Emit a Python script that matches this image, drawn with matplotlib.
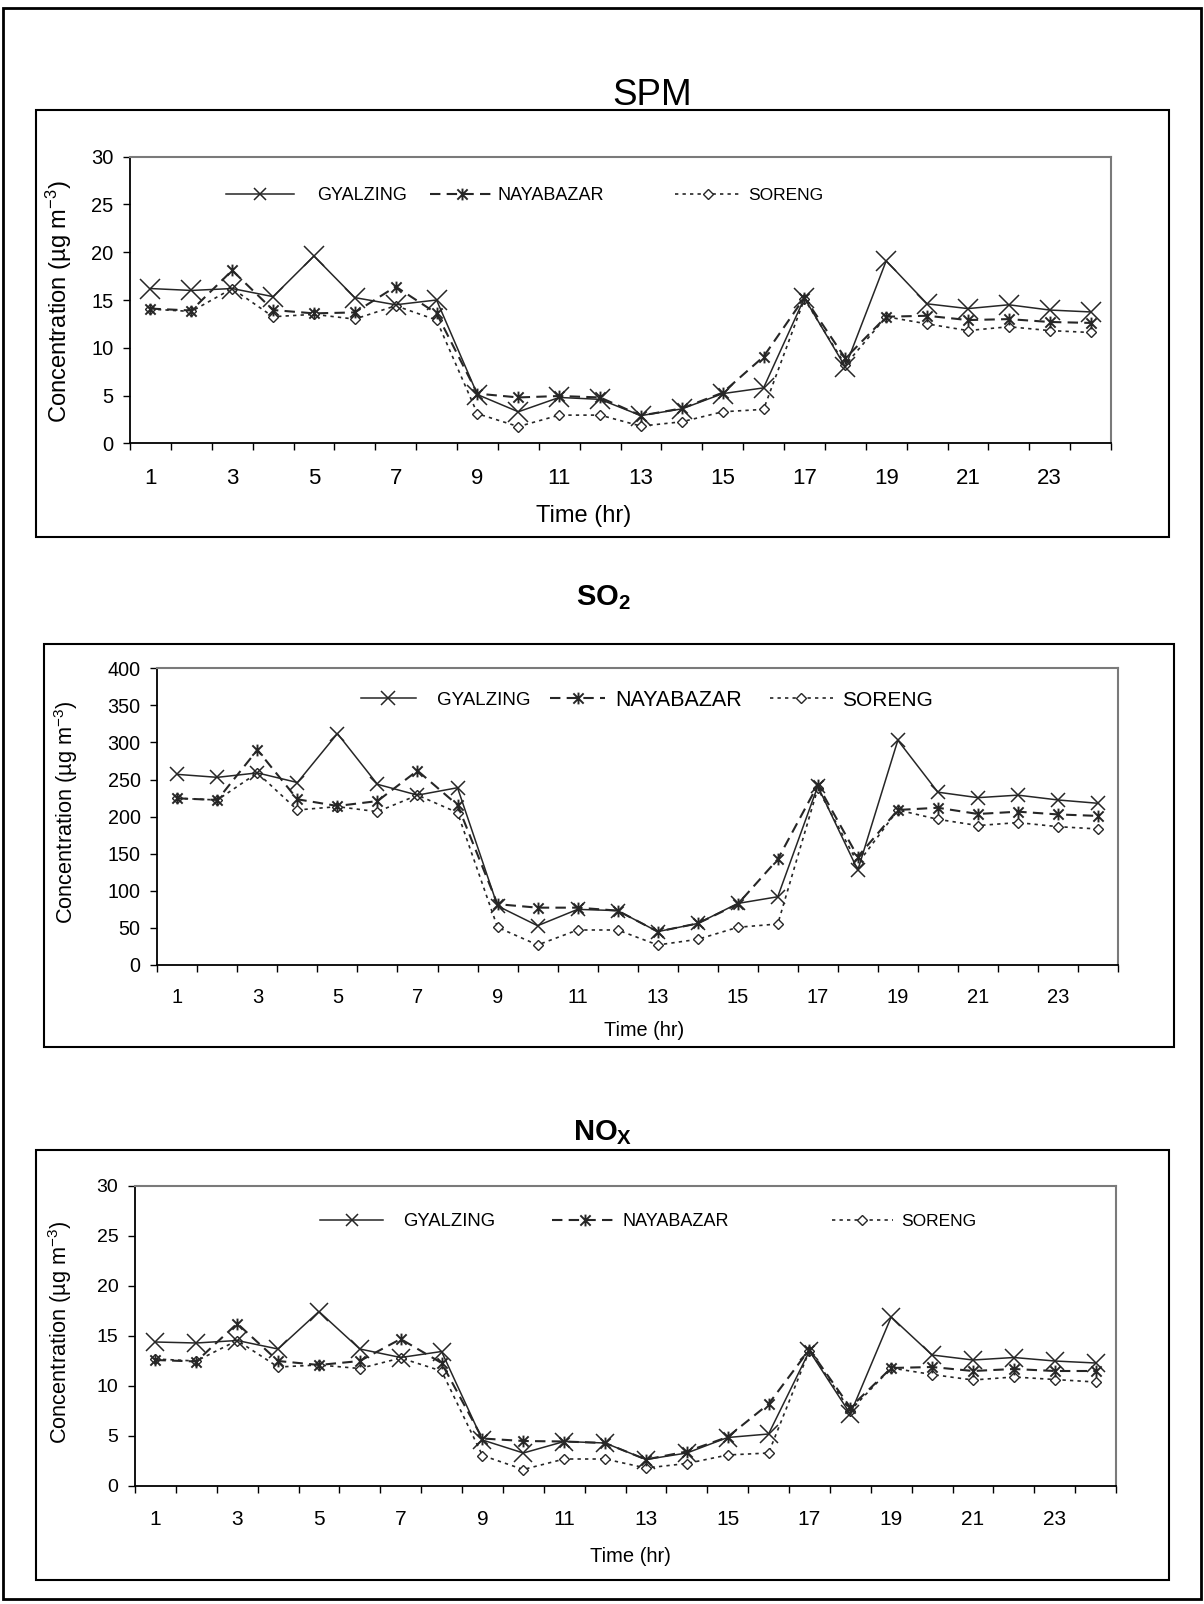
import numpy as np
import matplotlib
matplotlib.use('Agg')
import matplotlib.pyplot as plt
from matplotlib.path import Path
from matplotlib.legend import Legend
from matplotlib.patches import Rectangle

plt.rcParams['font.family'] = ['Liberation Sans', 'DejaVu Sans']
plt.rcParams['mathtext.fontset'] = 'custom'
plt.rcParams['mathtext.rm'] = 'Liberation Sans'
plt.rcParams['mathtext.bf'] = 'Liberation Sans:bold'
plt.rcParams['mathtext.it'] = 'Liberation Sans:italic'

# ---------------- data ----------------
hours = np.arange(1, 25)
hour_labels = [str(h) for h in range(1, 25, 2)]
sites = ['GYALZING', 'NAYABAZAR', 'SORENG']

spm_gyalzing = [16.2, 16.0, 16.2, 15.35, 19.6, 15.25, 14.5, 15.0, 5.1, 3.3, 4.8, 4.6,
                2.9, 3.6, 5.2, 5.8, 15.2, 8.0, 19.1, 14.6, 14.1, 14.5, 13.95, 13.75]
spm_nayabazar = [14.1, 13.9, 18.1, 13.95, 13.6, 13.7, 16.4, 13.6, 5.2, 4.8, 4.95, 4.8,
                 2.9, 3.65, 5.3, 9.07, 15.25, 8.9, 13.25, 13.35, 12.9, 13.0, 12.7, 12.6]
spm_soreng = [14.05, 13.8, 16.2, 13.25, 13.5, 13.0, 14.4, 12.9, 3.1, 1.75, 2.95, 2.95,
              1.8, 2.25, 3.3, 3.55, 15.1, 8.2, 13.25, 12.5, 11.8, 12.2, 11.8, 11.6]

so2_gyalzing = [257, 253, 259, 246, 312, 243.6, 229, 239, 79.6, 53, 75, 73.3,
                45, 56, 83, 92, 241, 128, 303, 233, 225.6, 229, 222.5, 218]
so2_nayabazar = [224.7, 222.5, 290, 223.4, 214.4, 221, 262, 215.7, 82, 77.3, 77.3, 73.3,
                 45, 56, 82, 142.5, 242.7, 146, 209, 212, 203.6, 206.7, 203, 201]
so2_soreng = [224.7, 222.5, 259, 209, 213.5, 206.7, 229, 205.4, 50.8, 27, 47.2, 47.2,
              27, 34.6, 50.8, 55.3, 238, 137, 209, 196.4, 188, 192, 186.5, 183.4]

nox_gyalzing = [14.4, 14.3, 14.55, 13.7, 17.45, 13.7, 12.85, 13.45, 4.6, 3.3, 4.45, 4.3,
                2.65, 3.3, 4.85, 5.2, 13.5, 7.2, 16.9, 13.1, 12.6, 12.85, 12.5, 12.3]
nox_nayabazar = [12.6, 12.45, 16.25, 12.5, 12.1, 12.5, 14.7, 12.3, 4.75, 4.5, 4.45, 4.3,
                 2.65, 3.45, 4.9, 8.2, 13.65, 7.85, 11.8, 11.9, 11.5, 11.7, 11.5, 11.5]
nox_soreng = [12.7, 12.5, 14.55, 11.9, 12.1, 11.75, 12.8, 11.5, 3.05, 1.65, 2.7, 2.7,
              1.8, 2.25, 3.1, 3.3, 13.55, 7.55, 11.8, 11.15, 10.6, 10.9, 10.65, 10.4]

# ---------------- layout helpers ----------------
W, H = 1204, 1604
fig = plt.figure(figsize=(W / 100, H / 100), dpi=100)
fig.patch.set_facecolor('white')


def frect(l, t, r, b):
    return [l / W, 1 - b / H, (r - l) / W, (b - t) / H]


def box(l, t, r, b, lw=1.5):
    fig.add_artist(Rectangle((l / W, 1 - b / H), (r - l) / W, (b - t) / H,
                             transform=fig.transFigure, fill=False,
                             edgecolor='black', linewidth=lw))


star = Path([(-1, -1), (1, 1), (-1, 1), (1, -1), (0, -1.15), (0, 1.15)],
            [Path.MOVETO, Path.LINETO, Path.MOVETO, Path.LINETO, Path.MOVETO, Path.LINETO])
LC = '#262626'

# outer border
box(3, 8, 1201, 1599, lw=2.0)

panels = [
    dict(series=[spm_gyalzing, spm_nayabazar, spm_soreng], ylim=30, ystep=5,
         frame=(36, 110, 1169, 537), axes=(130, 156.7, 1111, 443.3),
         title='SPM', title_xy=(652, 105), title_kw=dict(fontsize=26.5),
         ytick_fs=14.5, xtick_fs=16, xpad=17.8,
         ylab_xy=(59, 302), ylab_fs=17,
         xlab_xy=(584, 516), xlab_fs=17,
         ms=(14, 8.5, 5.5),
         legend=[(0.098, 3.76, 1.27, 13, 0.6), (0.306, 3.5, 0.22, 13, 1.0), (0.556, 3.74, 0.46, 12.5, 1.0)],
         leg_y=0.864),
    dict(series=[so2_gyalzing, so2_nayabazar, so2_soreng], ylim=400, ystep=50,
         frame=(44, 644, 1174, 1047), axes=(157.3, 668.3, 1118, 965),
         title=r'SO$_{\mathbf{2}}$', title_xy=(603, 605), title_kw=dict(fontsize=21, fontweight='bold'),
         ytick_fs=14.2, xtick_fs=14.5, xpad=16.5,
         ylab_xy=(66, 812), ylab_fs=15.7,
         xlab_xy=(644, 1031), xlab_fs=14.3,
         ms=(9.5, 8.5, 5),
         legend=[(0.212, 2.91, 1.16, 13.5, 1.1), (0.409, 2.55, 0.48, 15.5, 1.0), (0.6376, 3.03, 0.42, 15, 1.0)],
         leg_y=0.893),
    dict(series=[nox_gyalzing, nox_nayabazar, nox_soreng], ylim=30, ystep=5,
         frame=(36, 1150, 1169, 1580), axes=(135, 1186, 1116, 1486),
         title=r'NO$_{\mathbf{X}}$', title_xy=(603, 1140), title_kw=dict(fontsize=21, fontweight='bold'),
         ytick_fs=14, xtick_fs=15, xpad=17,
         ylab_xy=(60, 1332), ylab_fs=15.7,
         xlab_xy=(630, 1557), xlab_fs=14.5,
         ms=(13, 8.5, 5),
         legend=[(0.189, 3.38, 1.11, 13.3, 0.65), (0.425, 3.67, 0.26, 13, 1.0), (0.710, 3.55, 0.48, 12.5, 1.0)],
         leg_y=0.881),
]

for p in panels:
    box(*p['frame'])
    ax = fig.add_axes(frect(*p['axes']))
    g, n, s = p['series']
    msg, msn, mss = p['ms']
    lg, = ax.plot(hours, g, color=LC, lw=1.1, ls='-', marker='x', ms=msg, mew=1.1, zorder=3)
    ln, = ax.plot(hours, n, color=LC, lw=1.5, ls=(0, (5, 3)), marker=star, ms=msn, mew=1.4,
                  mec=LC, zorder=4)
    ls_, = ax.plot(hours, s, color=LC, lw=1.2, ls=(0, (2, 2.5)), marker='D', ms=mss, mew=1.0,
                   mfc='white', mec=LC, zorder=2)

    ax.set_xlim(0.5, 24.5)
    ax.set_ylim(0, p['ylim'])
    ax.set_yticks(np.arange(0, p['ylim'] + 1, p['ystep']))
    ax.set_xticks(np.arange(0.5, 25, 1))
    ax.set_xticklabels([])
    ax.set_xticks(np.arange(1, 25, 2), minor=True)
    ax.set_xticklabels(hour_labels, minor=True)
    ax.tick_params(axis='x', which='major', direction='out', length=4.8, width=1.0, color='black')
    ax.tick_params(axis='x', which='minor', length=0, pad=p['xpad'], labelsize=p['xtick_fs'])
    ax.tick_params(axis='y', direction='out', length=4.8, width=1.0, pad=7.2, labelsize=p['ytick_fs'])
    for side in ('left', 'bottom'):
        ax.spines[side].set_color('black')
        ax.spines[side].set_linewidth(1.3)
    for side in ('top', 'right'):
        ax.spines[side].set_color('#7a7a7a')
        ax.spines[side].set_linewidth(1.5)

    handles = [lg, ln, ls_]
    for h, lab, (x, hl, pad, fs, msc) in zip(handles, sites, p['legend']):
        leg = Legend(ax, [h], [lab], loc='center left', bbox_to_anchor=(x, p['leg_y']),
                     bbox_transform=ax.transAxes, frameon=False, borderpad=0, borderaxespad=0,
                     handlelength=hl, handletextpad=pad, numpoints=1, markerscale=msc,
                     prop={'family': 'Liberation Sans', 'size': fs})
        ax.add_artist(leg)

    tx, ty = p['title_xy']
    fig.text(tx / W, 1 - ty / H, p['title'], ha='center', va='baseline', **p['title_kw'])
    yx, yy = p['ylab_xy']
    fig.text(yx / W, 1 - yy / H, r'Concentration (µg m$^{-3}$)', rotation=90,
             ha='center', va='center', fontsize=p['ylab_fs'])
    xx, xy = p['xlab_xy']
    fig.text(xx / W, 1 - xy / H, 'Time (hr)', ha='center', va='center', fontsize=p['xlab_fs'])

fig.savefig('out.png', dpi=100, facecolor='white')
